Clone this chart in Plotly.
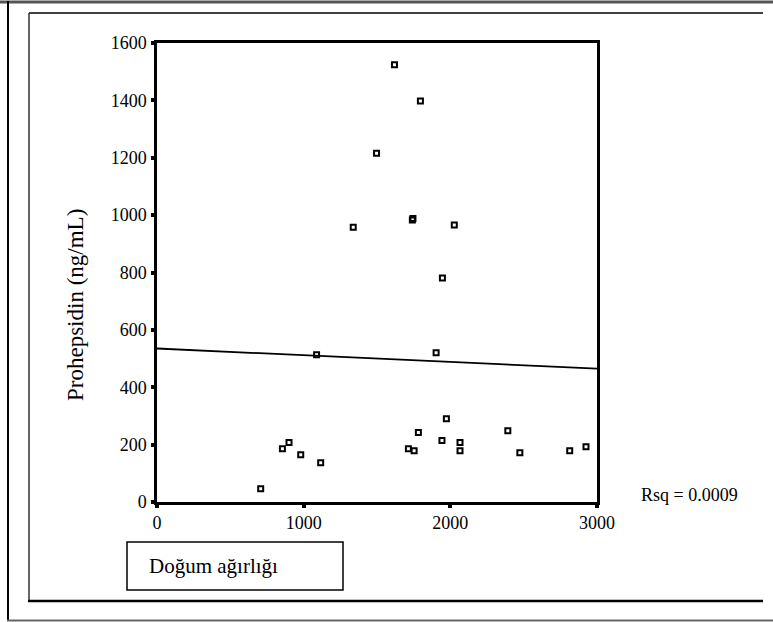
import plotly.graph_objects as go

# Data
birth_weight = [707, 855, 900, 980, 1116, 1088, 1338, 1497, 1619, 1796, 1741, 1745,
                2027, 1946, 1903, 1714, 1753, 1782, 1973, 1943, 2066, 2066,
                2392, 2474, 2814, 2925]
prohepsidin = [46, 186, 207, 165, 137, 513, 958, 1216, 1524, 1398, 983, 988,
               966, 781, 520, 186, 179, 242, 290, 214, 207, 179,
               248, 172, 179, 193]
fit_x = [0, 3000]
fit_y = [535, 465]
x_ticks = [0, 1000, 2000, 3000]
y_ticks = [0, 200, 400, 600, 800, 1000, 1200, 1400, 1600]

W, H = 773, 622
L, R, T, B = 157, 597, 43, 502  # plot-area pixel box


def px(x):
    return (x - L) / (R - L)


def py(y):
    return (B - y) / (B - T)


FONT = "Liberation Serif"

fig = go.Figure()
fig.add_trace(go.Scatter(x=fit_x, y=fit_y, mode="lines",
                         line=dict(color="black", width=1.8),
                         hoverinfo="skip", showlegend=False))
fig.add_trace(go.Scatter(x=birth_weight, y=prohepsidin, mode="markers",
                         marker=dict(symbol="square-open", size=5,
                                     color="black", line=dict(width=2, color="black")),
                         showlegend=False))

shapes = [
    # outer frame
    dict(type="line", xref="paper", yref="paper", x0=px(0), x1=px(W), y0=py(2), y1=py(2),
         line=dict(color="#555", width=3)),
    dict(type="line", xref="paper", yref="paper", x0=px(8), x1=px(8), y0=py(1), y1=py(621),
         line=dict(color="black", width=2)),
    dict(type="line", xref="paper", yref="paper", x0=px(7), x1=px(W), y0=py(620.5), y1=py(620.5),
         line=dict(color="#666", width=2)),
    # inner frame
    dict(type="line", xref="paper", yref="paper", x0=px(29), x1=px(763), y0=py(13), y1=py(13),
         line=dict(color="black", width=1.5)),
    dict(type="line", xref="paper", yref="paper", x0=px(29), x1=px(29), y0=py(13), y1=py(601),
         line=dict(color="#333", width=1.5)),
    dict(type="line", xref="paper", yref="paper", x0=px(28), x1=px(763), y0=py(601), y1=py(601),
         line=dict(color="black", width=2.5)),
    # x-label box
    dict(type="rect", xref="paper", yref="paper", x0=px(127), x1=px(343), y0=py(542), y1=py(590),
         line=dict(color="black", width=1.5), fillcolor="white"),
]

annotations = [
    dict(text="Doğum ağırlığı", xref="paper", yref="paper", x=px(147), y=py(566),
         xanchor="left", yanchor="middle", showarrow=False,
         font=dict(family=FONT, size=21, color="black")),
    dict(text="Rsq = 0.0009", xref="paper", yref="paper", x=px(639), y=py(495),
         xanchor="left", yanchor="middle", showarrow=False,
         font=dict(family=FONT, size=18, color="black")),
    dict(text="Prohepsidin (ng/mL)", xref="paper", yref="paper", x=px(75), y=py(305),
         xanchor="center", yanchor="middle", textangle=-90, showarrow=False,
         font=dict(family=FONT, size=23, color="black")),
]

fig.update_layout(
    width=W, height=H,
    margin=dict(l=L, r=W - R, t=T, b=H - B, pad=0),
    paper_bgcolor="white", plot_bgcolor="white",
    font=dict(family=FONT, size=18, color="black"),
    shapes=shapes, annotations=annotations,
    xaxis=dict(range=[0, 3000], tickvals=x_ticks, ticktext=[str(v) for v in x_ticks],
               showgrid=False, zeroline=False, showline=True, linecolor="black",
               linewidth=2.5, mirror=True, ticks="outside", ticklen=3, tickwidth=4,
               tickcolor="black", tickfont=dict(family=FONT, size=18, color="black"),
               fixedrange=True),
    yaxis=dict(range=[0, 1600], tickvals=y_ticks, ticktext=[str(v) for v in y_ticks],
               showgrid=False, zeroline=False, showline=True, linecolor="black",
               linewidth=2.5, mirror=True, ticks="outside", ticklen=3, tickwidth=4,
               tickcolor="black", tickfont=dict(family=FONT, size=18, color="black"),
               ticklabelstandoff=1, fixedrange=True),
)

fig.write_html("out.html")
